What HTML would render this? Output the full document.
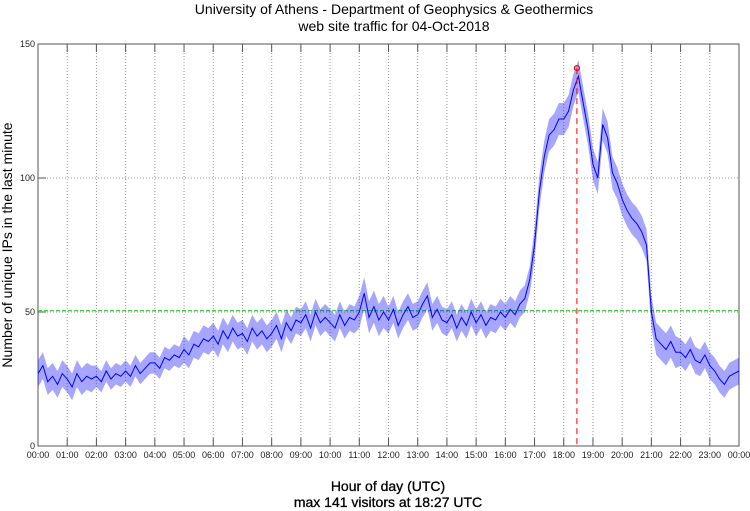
<!DOCTYPE html>
<html><head><meta charset="utf-8"><style>
body{margin:0;background:#fff}
svg{display:block;font-family:"Liberation Sans","DejaVu Sans",sans-serif}
</style></head><body>
<svg id="chart" width="750" height="511" viewBox="0 0 750 511">
<text x="394" y="14" text-anchor="middle" font-size="14">University of Athens - Department of Geophysics &amp; Geothermics</text>
<text x="394" y="31" text-anchor="middle" font-size="14">web site traffic for 04-Oct-2018</text>
<text x="388" y="491" text-anchor="middle" font-size="14" stroke="#000" stroke-width="0.3">Hour of day (UTC)</text>
<text x="388" y="507" text-anchor="middle" font-size="14" stroke="#000" stroke-width="0.3">max 141 visitors at 18:27 UTC</text>
<text transform="translate(12,245) rotate(-90)" text-anchor="middle" font-size="14">Number of unique IPs in the last minute</text>
<g id="grid"></g><g id="marks"></g>
</svg>
<script>
const xTickLabels=["00:00","01:00","02:00","03:00","04:00","05:00","06:00","07:00","08:00","09:00","10:00","11:00","12:00","13:00","14:00","15:00","16:00","17:00","18:00","19:00","20:00","21:00","22:00","23:00","00:00"];
const yTicks=[0,50,100,150];
const stepMinutes=10;
const visitors=[27,30,24,26,23,27,25,22,27,24,26,25,26,24,28,25,27,26,28,26,30,27,29,31,
31,29,33,32,34,33,36,34,38,37,40,39,41,38,43,40,44,41,42,39,44,41,43,40,
42,45,40,46,43,47,46,49,44,50,46,48,46,44,49,45,48,47,50,57,48,52,47,50,
47,51,45,49,52,48,49,53,56,48,51,47,46,49,44,48,45,50,46,49,45,48,47,50,
48,51,49,53,55,62,75,95,108,116,118,122,122,125,133,138,128,118,105,100,120,115,102,98,
92,88,85,83,80,75,50,40,38,36,39,35,35,33,36,32,31,34,30,28,25,23,26,27,28];
const noiseSpread=[5,5,4,4,4,5,5,5,5,5,5,6,5,5,5,5,5,6,6,6,6,6,5,5,5];
const maxValue=141, maxMinute=18*60+27, avgValue=50.5;
const L=38,R=739,T=44,B=446;
const xs=m=>L+(R-L)*m/1440, ys=v=>B-(B-T)*v/150;
const NS="http://www.w3.org/2000/svg";
const g=document.getElementById('grid'), mk=document.getElementById('marks');
function el(t,a,p){const e=document.createElementNS(NS,t);for(const k in a)e.setAttribute(k,a[k]);p.appendChild(e);return e;}
xTickLabels.forEach((lab,i)=>{const x=xs(i*60);
 if(i>0&&i<24){const l=el('line',{x1:x,x2:x,y1:T,y2:B,stroke:'#999','stroke-dasharray':'1,2','stroke-width':1},g);
 }
 const tk=el('line',{x1:x,x2:x,y1:B,y2:B-8,stroke:'#555'},g);
 const tk2=el('line',{x1:x,x2:x,y1:T,y2:T+8,stroke:'#555'},g);
 const t=el('text',{x:x,y:B+12,'text-anchor':'middle','font-size':9,fill:'#222'},g);t.textContent=lab;
 });
yTicks.forEach(v=>{const y=ys(v);
 if(v>0&&v<150){const l=el('line',{x1:L,x2:R,y1:y,y2:y,stroke:'#999','stroke-dasharray':'1,2'},g);
 }
 const tk=el('line',{x1:L,x2:L+8,y1:y,y2:y,stroke:'#555'},g);
 const t=el('text',{x:L-3,y:y+3,'text-anchor':'end','font-size':9,fill:'#222'},g);t.textContent=v;
 });
const fr=el('rect',{x:L,y:T,width:R-L,height:B-T,fill:'none',stroke:'#555'},g);

const av=el('line',{x1:L,x2:R,y1:ys(avgValue),y2:ys(avgValue),stroke:'#2c2','stroke-dasharray':'4,2'},mk);

const spreadAt=i=>noiseSpread[Math.floor(i*stepMinutes/60)];
const upper=visitors.map((v,i)=>xs(i*stepMinutes).toFixed(1)+','+ys(v+spreadAt(i)).toFixed(1));
const lower=visitors.map((v,i)=>xs(i*stepMinutes).toFixed(1)+','+ys(v-spreadAt(i)).toFixed(1)).reverse();
const band=el('polygon',{points:upper.concat(lower).join(' '),fill:'#00f','fill-opacity':0.35,stroke:'none'},mk);

const pts=visitors.map((v,i)=>xs(i*stepMinutes).toFixed(1)+','+ys(v).toFixed(1)).join(' ');
const pl=el('polyline',{points:pts,fill:'none',stroke:'#00f','stroke-width':1},mk);

const ml=el('line',{x1:xs(maxMinute),x2:xs(maxMinute),y1:ys(maxValue),y2:B,stroke:'#f00','stroke-dasharray':'6,4'},mk);

const c=el('circle',{cx:xs(maxMinute),cy:ys(maxValue),r:2.5,fill:'none',stroke:'#f00','stroke-width':1.2},mk);

</script>
</body></html>
